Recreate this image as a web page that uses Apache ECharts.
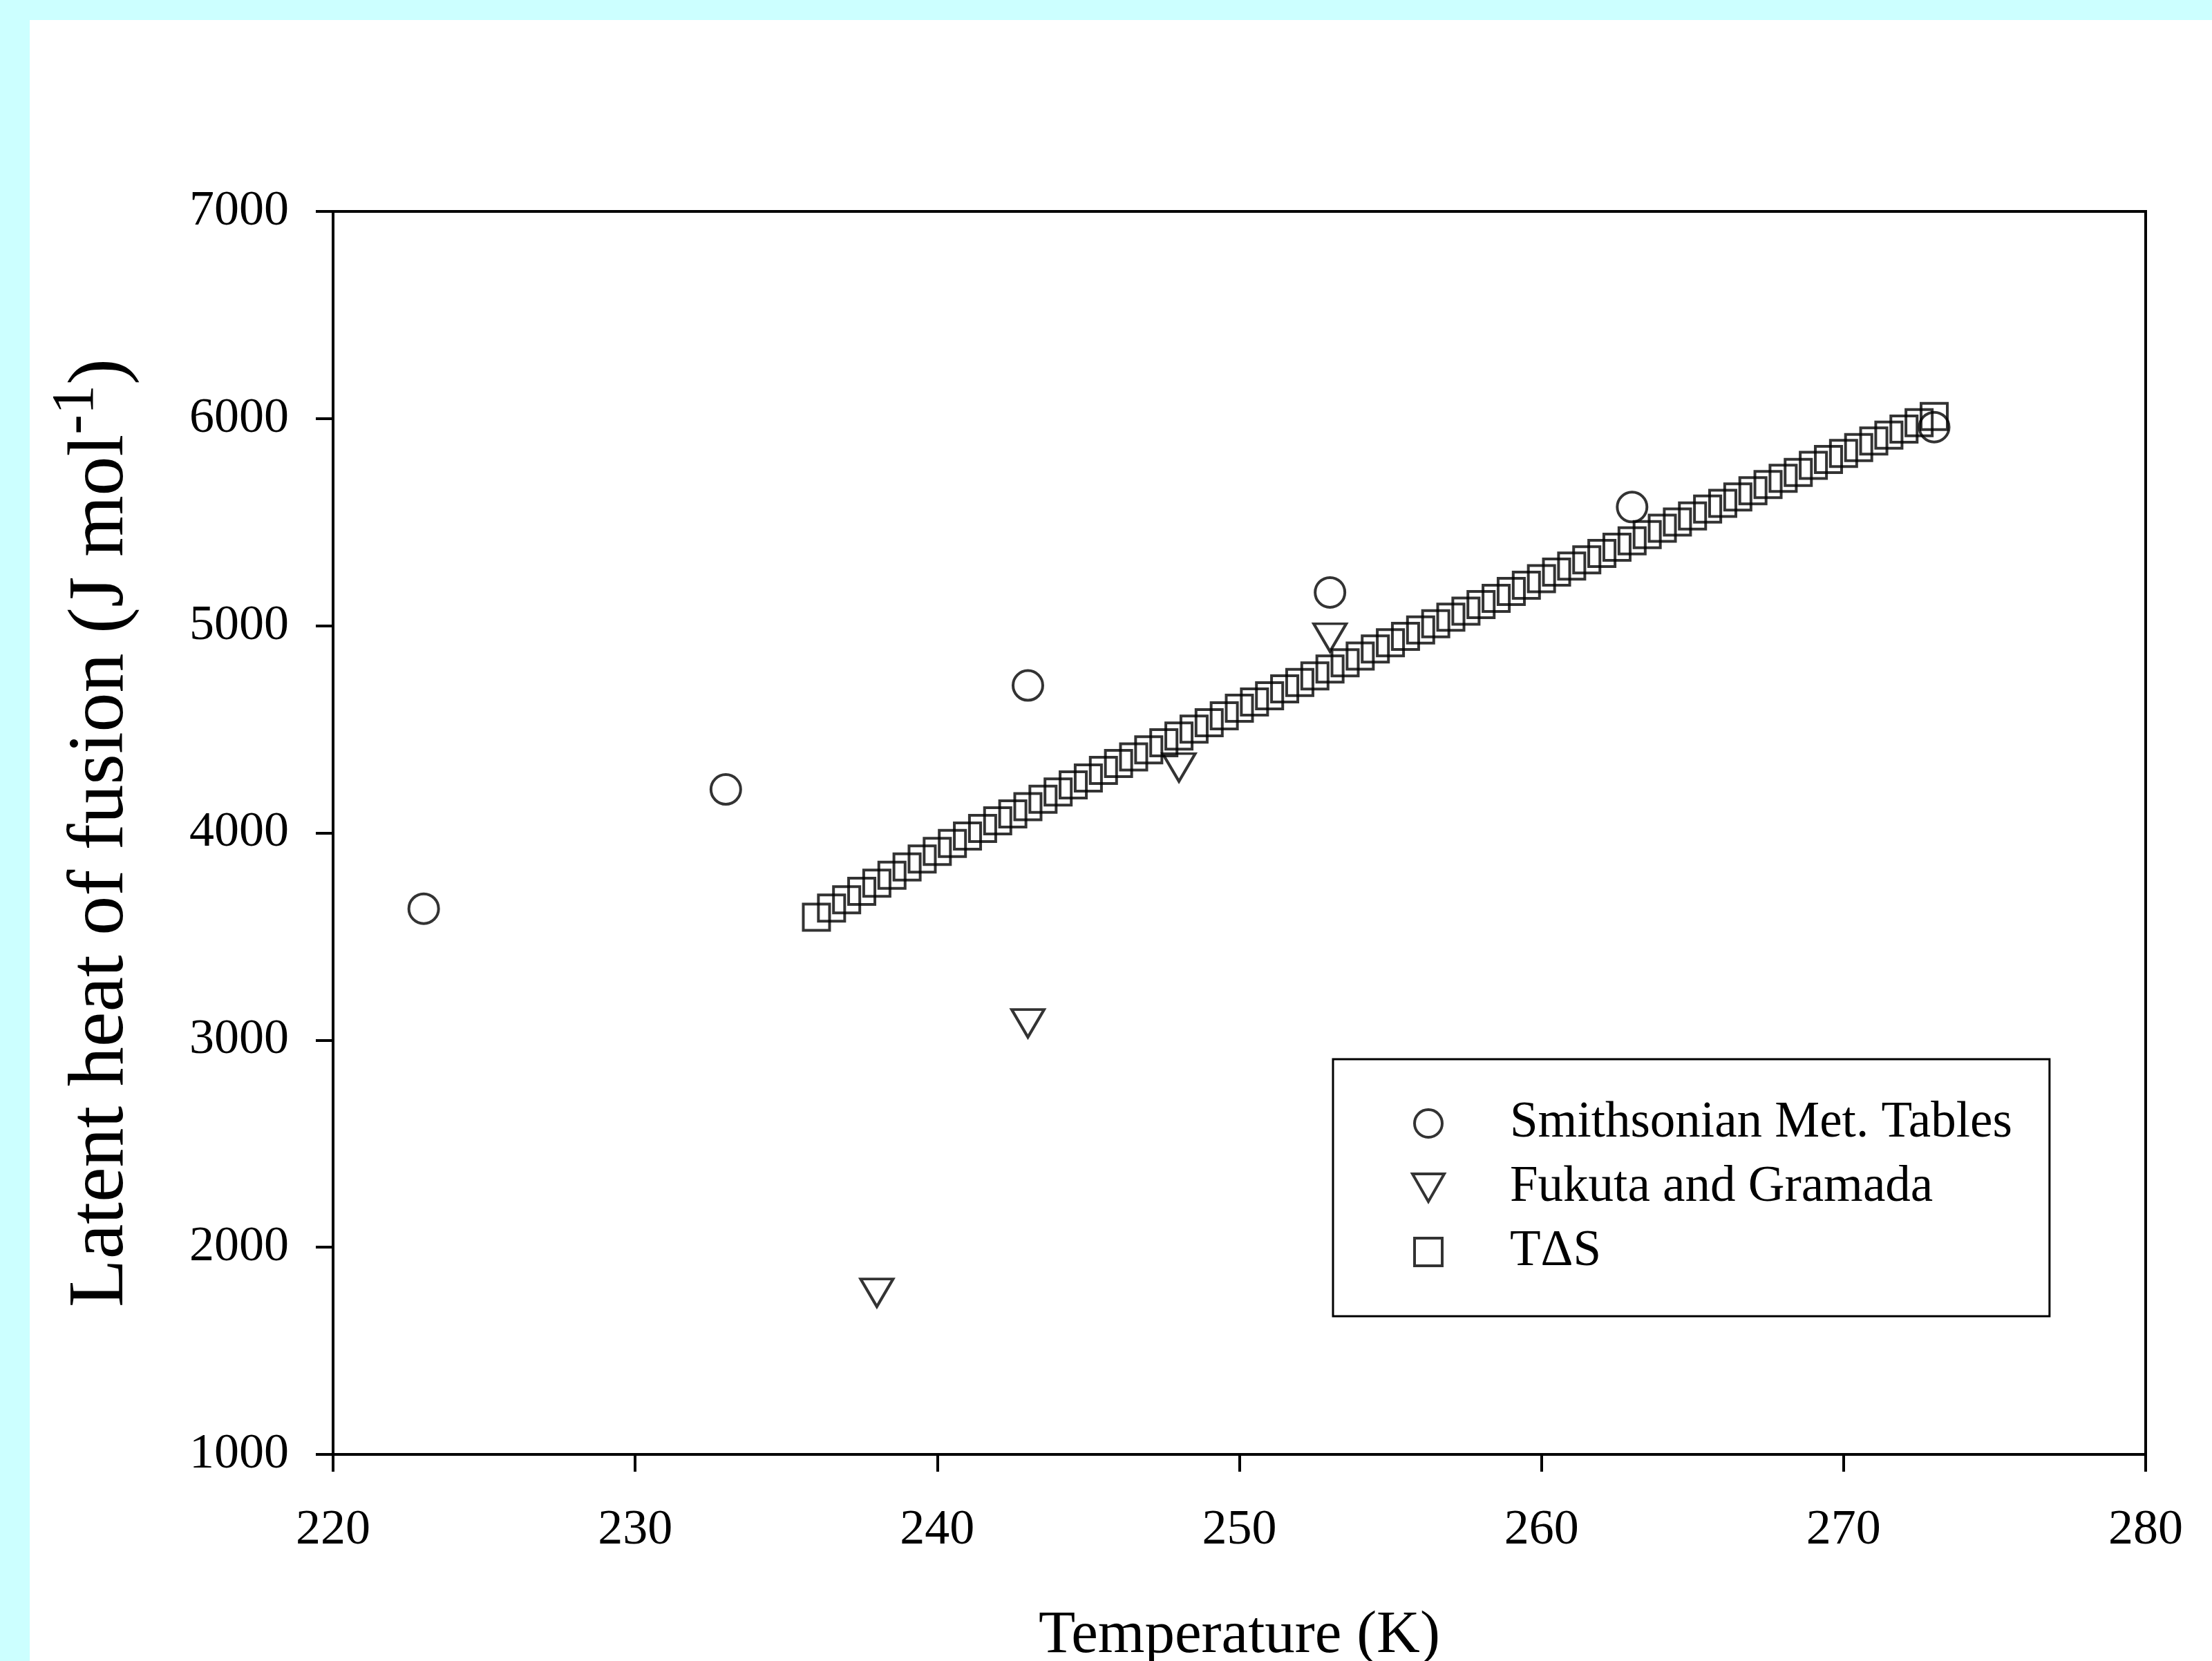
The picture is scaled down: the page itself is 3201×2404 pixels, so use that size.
<!DOCTYPE html>
<html>
<head>
<meta charset="utf-8">
<script src="https://cdn.jsdelivr.net/npm/echarts@6.0.0/dist/echarts.min.js"></script>
<style>
	html, body { margin: 0; padding: 0; background: #ccffff; }
	#main { position: absolute; left: 43px; top: 29px; width: 3158px; height: 2375px; background: #fff; }
</style>
</head>
<body>
<div id="main"></div>
<script>
	// Smithsonian Met. Tables (circles)
	var smithT = [223, 233, 243, 253, 263, 273];
	var smithL = [3634, 4210, 4712, 5161, 5573, 5959];

	// Fukuta and Gramada (down triangles)
	var fukutaT = [238, 243, 248, 253];
	var fukutaL = [1780, 3081, 4316, 4943];

	// T delta S (squares), every 0.5 K
	var tdsT = [236, 236.5, 237, 237.5, 238, 238.5, 239, 239.5, 240, 240.5,
		241, 241.5, 242, 242.5, 243, 243.5, 244, 244.5, 245, 245.5,
		246, 246.5, 247, 247.5, 248, 248.5, 249, 249.5, 250, 250.5,
		251, 251.5, 252, 252.5, 253, 253.5, 254, 254.5, 255, 255.5,
		256, 256.5, 257, 257.5, 258, 258.5, 259, 259.5, 260, 260.5,
		261, 261.5, 262, 262.5, 263, 263.5, 264, 264.5, 265, 265.5,
		266, 266.5, 267, 267.5, 268, 268.5, 269, 269.5, 270, 270.5,
		271, 271.5, 272, 272.5, 273];
	var tdsL = [3593, 3637, 3677, 3718, 3757, 3796, 3836, 3874, 3911, 3949,
		3985, 4022, 4058, 4092, 4127, 4163, 4198, 4232, 4265, 4302,
		4335, 4367, 4401, 4435, 4468, 4501, 4532, 4565, 4602, 4632,
		4662, 4695, 4726, 4758, 4791, 4821, 4854, 4888, 4918, 4949,
		4980, 5010, 5041, 5071, 5102, 5132, 5166, 5196, 5227, 5259,
		5288, 5318, 5349, 5379, 5410, 5440, 5471, 5501, 5530, 5563,
		5591, 5622, 5652, 5682, 5712, 5740, 5774, 5803, 5832, 5860,
		5892, 5920, 5949, 5980, 6010];

	var seriesNames = ['Smithsonian Met. Tables', 'Fukuta and Gramada', 'T\u0394S'];

	var FONT = '"Liberation Serif", "Times New Roman", serif';
	var triPath = 'path://M0,0L10,0L5,8.66Z';
	var sqPath = 'path://M0,0L10,0L10,10L0,10Z';

	function pairs(xs, ys) {
		var out = [];
		for (var i = 0; i < xs.length; i++) {
			out.push([xs[i], ys[i]]);
		}
		return out;
	}
	// plain numbers, no thousands separator
	function plain(v) {
		return String(v);
	}

	var hollow = { color: 'transparent', borderColor: '#000', borderWidth: 4 };

	var option = {
		animation: false,
		backgroundColor: '#fff',
		grid: {
			left: 439, top: 277, right: 96, bottom: 299,
			outerBoundsMode: 'none',
			containLabel: false,
			show: true, borderColor: '#000', borderWidth: 4,
			backgroundColor: 'transparent'
		},
		xAxis: {
			type: 'value',
			min: 220, max: 280, interval: 10,
			name: 'Temperature (K)',
			nameLocation: 'middle',
			nameGap: 220,
			nameTextStyle: { fontFamily: FONT, fontSize: 87, lineHeight: 87, color: '#000' },
			axisLine: { lineStyle: { color: '#000', width: 4 } },
			axisTick: { inside: false, length: 25, lineStyle: { color: '#000', width: 4 } },
			axisLabel: { margin: 74, fontFamily: FONT, fontSize: 72, color: '#000', formatter: plain, showMaxLabel: true, showMinLabel: true },
			splitLine: { show: false }
		},
		yAxis: {
			type: 'value',
			min: 1000, max: 7000, interval: 1000,
			name: '{b|Latent heat of fusion (J mol}{s|-1}{b|)}',
			nameLocation: 'middle',
			nameGap: 278,
			nameTextStyle: {
				rich: {
					b: { fontFamily: FONT, fontSize: 114, lineHeight: 114, color: '#000', verticalAlign: 'bottom' },
					s: { fontFamily: FONT, fontSize: 86, lineHeight: 136, color: '#000', verticalAlign: 'top' }
				}
			},
			axisLine: { lineStyle: { color: '#000', width: 4 } },
			axisTick: { inside: false, length: 25, lineStyle: { color: '#000', width: 4 } },
			axisLabel: { margin: 64, fontFamily: FONT, fontSize: 72, color: '#000', formatter: plain, showMaxLabel: true, showMinLabel: true },
			splitLine: { show: false }
		},
		legend: {
			orient: 'vertical',
			left: 1886, top: 1504,
			padding: [53, 54, 53, 113],
			itemGap: 13,
			itemWidth: 46, itemHeight: 40,
			borderColor: '#000', borderWidth: 3,
			selectedMode: false,
			itemStyle: hollow,
			textStyle: { fontFamily: FONT, fontSize: 73, lineHeight: 80, color: '#000', padding: [0, 0, 0, 90] },
			data: [
				{ name: seriesNames[0], icon: 'circle' },
				{ name: seriesNames[1], icon: triPath },
				{ name: seriesNames[2], icon: sqPath }
			]
		},
		series: [
			{
				name: seriesNames[0], type: 'scatter',
				symbol: 'circle', symbolSize: 43,
				itemStyle: hollow,
				data: pairs(smithT, smithL)
			},
			{
				name: seriesNames[1], type: 'scatter',
				symbol: triPath, symbolSize: [47, 40], symbolKeepAspect: false,
				itemStyle: hollow,
				data: pairs(fukutaT, fukutaL)
			},
			{
				name: seriesNames[2], type: 'scatter',
				symbol: 'rect', symbolSize: 38,
				itemStyle: hollow,
				data: pairs(tdsT, tdsL)
			}
		]
	};

	var myChart = echarts.init(document.getElementById('main'));
	myChart.setOption(option);
</script>
</body>
</html>
